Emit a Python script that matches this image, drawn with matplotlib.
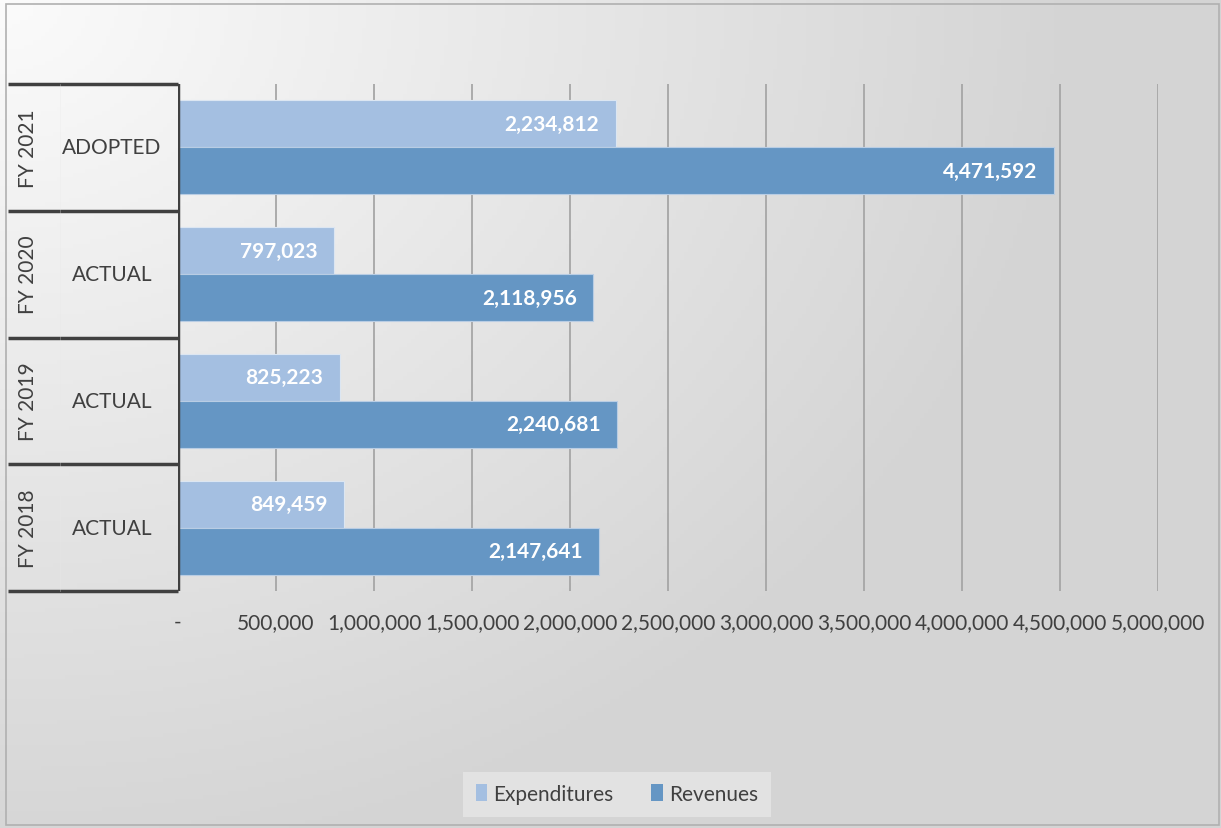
import numpy as np
import matplotlib
matplotlib.use("Agg")
import matplotlib.pyplot as plt
from matplotlib.patches import Rectangle
from matplotlib.transforms import blended_transform_factory

plt.rcParams['font.family'] = ['Lato', 'DejaVu Sans']

# data, bottom row first
years = ['FY 2018', 'FY 2019', 'FY 2020', 'FY 2021']
stages = ['ACTUAL', 'ACTUAL', 'ACTUAL', 'ADOPTED']
expenditures = [849459, 825223, 797023, 2234812]
revenues = [2147641, 2240681, 2118956, 4471592]
ticks = [0, 500000, 1000000, 1500000, 2000000, 2500000, 3000000, 3500000, 4000000, 4500000, 5000000]

c_exp = '#a4bfe1'
c_rev = '#6596c4'
txt = '#404040'

W, H = 1221, 829
fig = plt.figure(figsize=(W / 100, H / 100), dpi=100)

# soft grey gradient behind everything
bg = fig.add_axes([0, 0, 1, 1], zorder=-10)
yy, xx = np.mgrid[0:1:200j, 0:1:300j]
d = np.sqrt((xx * 1.2) ** 2 + yy ** 2) / np.sqrt(1.44 + 1)
shade = 0.985 - 0.15 * np.clip(d * 1.5, 0, 1)
bg.imshow(np.dstack([shade] * 3), extent=[0, 1, 0, 1], aspect='auto', origin='upper')
bg.set_axis_off()
fig.patches.append(Rectangle((6 / W, 3 / H), 1 - 8 / W, 1 - 8 / H, transform=fig.transFigure,
                             fill=False, edgecolor='#b0b0b0', lw=1.2, zorder=5))

ax = fig.add_axes([178 / W, 1 - 592 / H, 980 / W, 507 / H])
ax.patch.set_alpha(0)

y = np.arange(len(years))
h = 0.37
b1 = ax.barh(y + h / 2, expenditures, height=h, color=c_exp, edgecolor='#dce6f2', lw=0.8, label='Expenditures', zorder=3)
b2 = ax.barh(y - h / 2, revenues, height=h, color=c_rev, edgecolor='#b9cde4', lw=0.8, label='Revenues', zorder=3)

for bars, vals in ((b1, expenditures), (b2, revenues)):
    for bar, v in zip(bars, vals):
        ax.annotate(f'{v:,}', (v, bar.get_y() + bar.get_height() / 2), xytext=(-12, 0),
                    textcoords='offset points', ha='right', va='center', color='white',
                    fontsize=15, fontweight='bold', zorder=4)

ax.set_xlim(0, 5000000)
ax.set_ylim(-0.5, len(years) - 0.5)
ax.set_xticks(ticks)
ax.set_xticklabels(['-' if t == 0 else f'{t:,}' for t in ticks], fontsize=15, color=txt)
ax.tick_params(axis='x', length=0, pad=15)
ax.set_yticks([])
ax.grid(axis='x', color='#a6a6a6', lw=1.3, zorder=0)
for s in ax.spines.values():
    s.set_visible(False)
ax.axvline(0, color='#404040', lw=2.5, zorder=5)

# category label boxes on the left
tr = blended_transform_factory(fig.transFigure, ax.transData)
for b in np.arange(-0.5, len(years)):
    ax.plot([8 / W, 178 / W], [b, b], transform=tr, color='#404040', lw=2.5, clip_on=False, solid_capstyle='butt')
ax.plot([60 / W, 60 / W], [-0.5, len(years) - 0.5], transform=tr, color='#e8e8e8', lw=0.6, alpha=0.35, clip_on=False)
for i, (yr, st) in enumerate(zip(years, stages)):
    ax.text(28 / W, i, yr, transform=tr, rotation=90, ha='center', va='center', fontsize=15, color=txt)
    ax.text(112 / W, i, st, transform=tr, ha='center', va='center', fontsize=15, color=txt)

leg = fig.legend(handles=[b1, b2], loc='center', bbox_to_anchor=(617 / W, 1 - 795 / H), ncol=2,
                 fontsize=15, frameon=True, fancybox=False, facecolor='#e2e2e2', edgecolor='none',
                 framealpha=1, handlelength=0.55, handleheight=0.85, handletextpad=0.3, columnspacing=1.8,
                 borderpad=0.6, borderaxespad=0, labelcolor=txt)
for p in leg.get_patches():
    p.set_edgecolor('none')

fig.savefig('out.png', dpi=100)
